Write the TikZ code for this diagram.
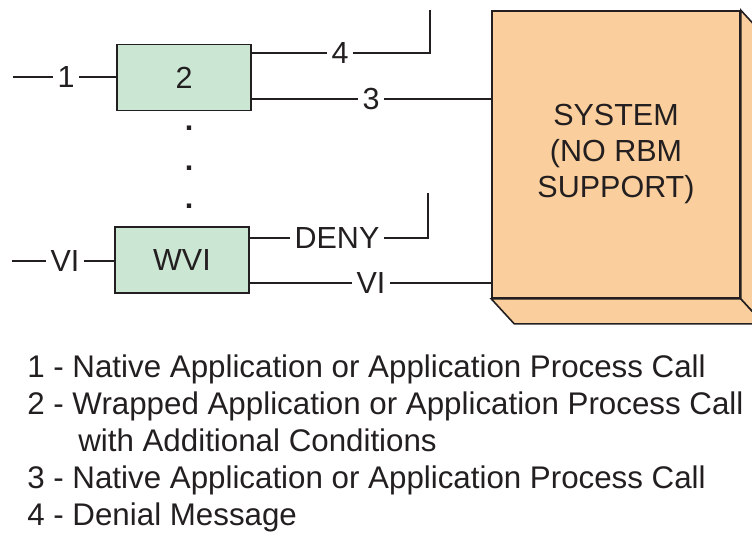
\documentclass[tikz,border=0pt]{standalone}
\usepackage{fontspec}
\setmainfont{Liberation Sans}
\usepackage{xcolor}
\usetikzlibrary{positioning, calc}

\definecolor{inkgray}{RGB}{35,31,32}
\definecolor{wrapgreen}{RGB}{204,230,212}
\definecolor{sysorange}{RGB}{251,207,157}

\begin{document}
\begin{tikzpicture}[x=1pt, y=-1pt, line width=1.6pt, draw=inkgray, text=inkgray,
    wrapbox/.style={draw, fill=wrapgreen, minimum width=134pt, minimum height=66pt, inner sep=0pt, font=\fontsize{30.5}{36}\selectfont},
    lbl/.style={inner xsep=4pt, inner ysep=0pt, font=\fontsize{30.5}{36}\selectfont},
    legend/.style={anchor=base west, inner sep=0pt, font=\fontsize{31.3}{37}\selectfont}]
\clip (0,0) rectangle (752,535);

% Wrapper boxes
\node[wrapbox] (box2) at (184,77.5) {2};
\node[wrapbox] (boxwvi) at (182,260) {WVI};

% Dots between them
\foreach \y [count=\i] in {128,168,206}
    \node[inner sep=0pt, font=\bfseries\fontsize{30.5}{36}\selectfont] (dot\i) at (189,\y) {.};

% System block with bevel
\node[draw, fill=sysorange, minimum width=248pt, minimum height=287pt, inner sep=0pt, align=center,
    font=\fontsize{30.5}{36}\selectfont] (sys) at (616,154.5) {SYSTEM\\(NO RBM\\SUPPORT)};
\draw[fill=sysorange] (sys.south west) -- ($(sys.south west)+(23,25)$) -- ($(sys.south east)+(23,25)$) -- (sys.south east) -- cycle;
\draw[fill=sysorange] (sys.north east) -- ($(sys.north east)+(23,25)$) -- ($(sys.south east)+(23,25)$) -- (sys.south east) -- cycle;

% Upper path
\coordinate (in1) at (13,77);
\node[lbl] (l1) at (66,77) {1};
\draw (in1) -- (l1.west);
\draw (l1.east) -- (l1.east -| box2.west);
\node[lbl] (l4) at (340,53) {4};
\coordinate (top4) at (430,10);
\draw (l4.west -| box2.east) -- (l4.west);
\draw (l4.east) -| (top4);
\node[lbl] (l3) at (371,99) {3};
\draw (l3.west -| box2.east) -- (l3.west);
\draw (l3.east) -- (l3.east -| sys.west);

% Lower path
\coordinate (invi) at (12,261);
\node[lbl] (lvi) at (65,261) {VI};
\draw (invi) -- (lvi.west);
\draw (lvi.east) -- (lvi.east -| boxwvi.west);
\node[lbl] (ldeny) at (337,238) {DENY};
\coordinate (topdeny) at (428,193);
\draw (ldeny.west -| boxwvi.east) -- (ldeny.west);
\draw (ldeny.east) -| (topdeny);
\node[lbl] (lvo) at (371,283) {VI};
\draw (lvo.west -| boxwvi.east) -- (lvo.west);
\draw (lvo.east) -- (lvo.east -| sys.west);

% Legend
\node[legend] (leg1) at (26.5,377) {1 - Native Application or Application Process Call};
\node[legend] (leg2) at (26.5,414) {2 - Wrapped Application or Application Process Call};
\node[legend] (leg2b) at (77.5,451) {with Additional Conditions};
\node[legend] (leg3) at (26.5,488) {3 - Native Application or Application Process Call};
\node[legend] (leg4) at (26.5,525) {4 - Denial Message};
\end{tikzpicture}
\end{document}
